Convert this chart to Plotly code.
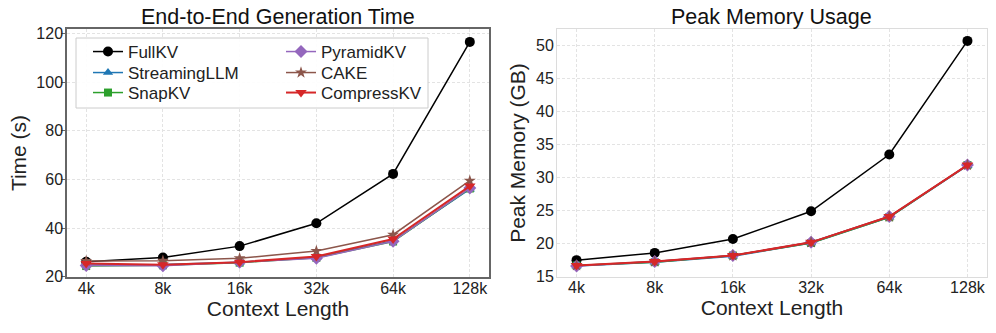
import plotly.graph_objects as go

contexts = ["4k", "8k", "16k", "32k", "64k", "128k"]
methods = ["FullKV", "StreamingLLM", "SnapKV", "PyramidKV", "CAKE", "CompressKV"]

time_fullkv = [26.2, 27.9, 32.6, 42.0, 62.3, 116.6]
time_streamingllm = [24.8, 25.0, 26.0, 28.0, 34.8, 56.0]
time_snapkv = [24.4, 24.7, 25.8, 27.8, 34.5, 56.3]
time_pyramidkv = [24.6, 24.5, 26.0, 27.6, 34.6, 56.5]
time_cake = [26.5, 26.6, 27.6, 30.6, 37.3, 59.5]
time_compresskv = [25.5, 24.9, 26.0, 28.3, 35.5, 57.3]

mem_fullkv = [17.5, 18.6, 20.7, 24.9, 33.5, 50.7]
mem_streamingllm = [16.6, 17.2, 18.1, 20.1, 24.0, 31.8]
mem_snapkv = [16.7, 17.2, 18.2, 20.1, 24.0, 31.9]
mem_pyramidkv = [16.6, 17.3, 18.2, 20.2, 24.1, 31.9]
mem_cake = [16.7, 17.3, 18.2, 20.2, 24.1, 31.9]
mem_compresskv = [16.7, 17.3, 18.2, 20.2, 24.1, 31.9]

time_ticks = [20, 40, 60, 80, 100, 120]
mem_ticks = [15, 20, 25, 30, 35, 40, 45, 50]

time_data = [time_fullkv, time_streamingllm, time_snapkv, time_pyramidkv, time_cake, time_compresskv]
mem_data = [mem_fullkv, mem_streamingllm, mem_snapkv, mem_pyramidkv, mem_cake, mem_compresskv]

colors = ["#000000", "#1f77b4", "#2ca02c", "#9467bd", "#8c564b", "#d62728"]
symbols = ["circle", "triangle-up", "square", "diamond", "star", "triangle-down"]
msizes = [10, 9, 8, 10, 9, 10]
lwidths = [1.5, 1.5, 1.5, 1.5, 1.5, 2]

FONT = "Liberation Sans, Arial, sans-serif"

# legend slot per method: (column left px, row center px)
col_px = [88, 88, 88, 281, 281, 281]
row_px = [52, 73, 93, 52, 73, 93]
legend_ids = ["legend", "legend2", "legend3", "legend4", "legend5", "legend6"]

fig = go.Figure()
for i, m in enumerate(methods):
    fig.add_trace(go.Scatter(
        x=contexts, y=time_data[i], name=m, mode="lines+markers",
        line=dict(color=colors[i], width=lwidths[i]),
        marker=dict(symbol=symbols[i], size=msizes[i], color=colors[i]),
        legend=legend_ids[i], xaxis="x", yaxis="y", showlegend=True))
for i, m in enumerate(methods):
    fig.add_trace(go.Scatter(
        x=contexts, y=mem_data[i], name=m, mode="lines+markers",
        line=dict(color=colors[i], width=lwidths[i]),
        marker=dict(symbol=symbols[i], size=msizes[i], color=colors[i]),
        xaxis="x2", yaxis="y2", showlegend=False))

grid = dict(showgrid=True, gridcolor="#e3e3e3", griddash="3px,2px", gridwidth=0.8)
tickfont = dict(family=FONT, size=16, color="#222")
titlefont = dict(family=FONT, size=21, color="#222")
legfont = dict(family=FONT, size=17, color="#222")

legends = {}
for i, lid in enumerate(legend_ids):
    legends[lid] = dict(orientation="v", x=(col_px[i] - 67) / 920,
                        y=(277 - (row_px[i] - 18)) / 248,
                        xanchor="left", yanchor="top", font=legfont,
                        bgcolor="rgba(0,0,0,0)", borderwidth=0)

fig.update_layout(
    width=996, height=333,
    margin=dict(l=67, r=9, t=29, b=56),
    paper_bgcolor="white", plot_bgcolor="white",
    font=dict(family=FONT, color="#222"),
    xaxis=dict(domain=[0, 0.4587], type="category", range=[-0.25, 5.25],
               tickfont=tickfont, ticks="", showline=True, mirror=True,
               linecolor="#666666", linewidth=1.5, ticklabelstandoff=-4,
               title=dict(text="Context Length", font=titlefont, standoff=3),
               automargin=False, **grid),
    yaxis=dict(domain=[0, 1], range=[19.9, 121.9], tickvals=time_ticks,
               tickfont=tickfont, ticks="outside", ticklen=4, tickcolor="#666666",
               showline=True, mirror=True, linecolor="#666666", linewidth=1.5,
               ticklabelstandoff=-5,
               title=dict(text="Time (s)", font=titlefont, standoff=4),
               automargin=False, zeroline=False, **grid),
    xaxis2=dict(domain=[0.5326, 1], type="category", range=[-0.25, 5.25],
                anchor="y2", tickfont=tickfont, ticks="", showline=True, mirror=True,
                linecolor="#dcdcdc", linewidth=1, ticklabelstandoff=-4,
                title=dict(text="Context Length", font=titlefont, standoff=3),
                automargin=False, **grid),
    yaxis2=dict(domain=[0, 1], range=[14.95, 52.5], tickvals=mem_ticks, anchor="x2",
                tickfont=tickfont, ticks="", showline=True, mirror=True,
                linecolor="#dcdcdc", linewidth=1, ticklabelstandoff=-1,
                title=dict(text="Peak Memory (GB)", font=titlefont, standoff=4),
                automargin=False, zeroline=False, **grid),
    shapes=[dict(type="rect", xref="x domain", yref="y domain",
                 x0=(76 - 67) / 422, x1=(428 - 67) / 422,
                 y0=(277 - 108) / 248, y1=(277 - 38) / 248,
                 fillcolor="rgba(255,255,255,0.9)", line=dict(color="#cccccc", width=1),
                 layer="above")],
    annotations=[
        dict(text="End-to-End Generation Time", x=0.4587 / 2, y=1, xref="paper", yref="paper",
             xanchor="center", yanchor="bottom", showarrow=False, yshift=-2,
             font=dict(family=FONT, size=21.5, color="#111")),
        dict(text="Peak Memory Usage", x=(0.5326 + 1) / 2, y=1, xref="paper", yref="paper",
             xanchor="center", yanchor="bottom", showarrow=False, yshift=-2,
             font=dict(family=FONT, size=21.5, color="#111")),
    ],
    **legends,
)

fig.write_html("out.html", config={"displayModeBar": False},
               post_script="document.body.style.margin='0px';")
